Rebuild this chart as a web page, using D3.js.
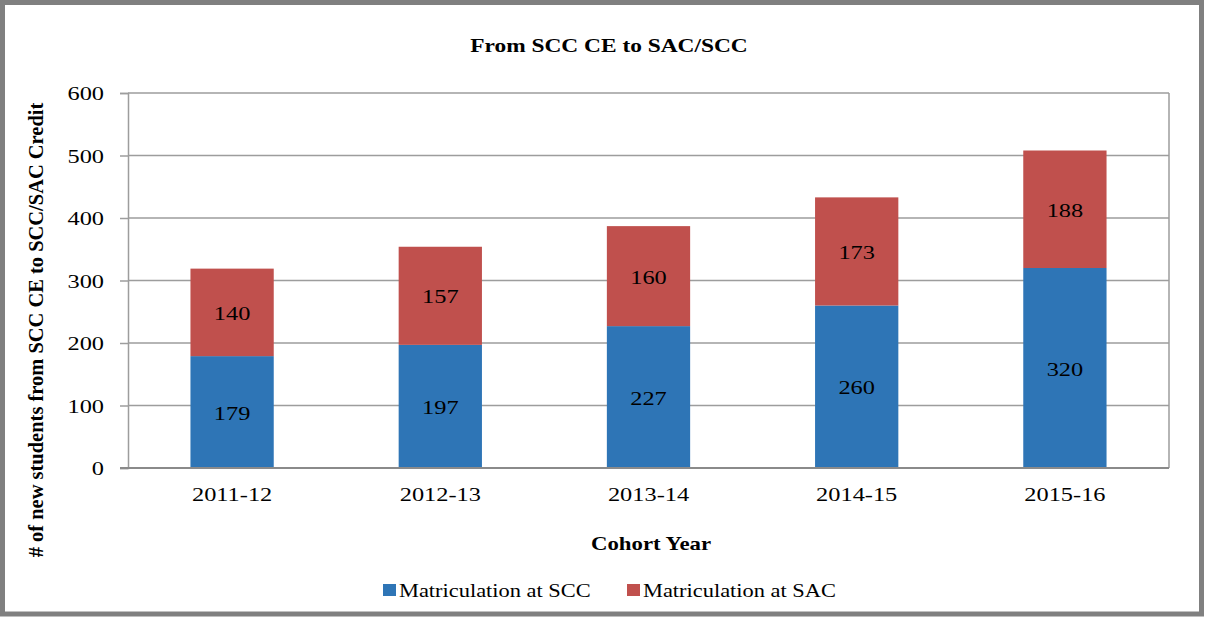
<!DOCTYPE html>
<html>
<head>
<meta charset="utf-8">
<script src="https://cdn.jsdelivr.net/npm/d3@7"></script>
<style>
  body { margin: 0; background: #fff; }
  svg { display: block; }
  text { font-family: "Liberation Serif", "Times New Roman", serif; fill: #000; }
</style>
</head>
<body>
<svg id="chart" width="1205" height="617"></svg>
<script>
const cohorts = ['2011-12', '2012-13', '2013-14', '2014-15', '2015-16'];
const sccValues = [179, 197, 227, 260, 320];
const sacValues = [140, 157, 160, 173, 188];
const yTicks = [0, 100, 200, 300, 400, 500, 600];
const seriesNames = ['Matriculation at SCC', 'Matriculation at SAC'];
const seriesColors = ['#2E75B6', '#C0504D'];

const svg = d3.select('#chart');
const fs = 19.5;
const sx = 1.25; // text in the reference is stretched wide

const margin = { left: 128, right: 1169, top: 93, bottom: 468 };

const x = d3.scaleBand()
    .domain(cohorts)
    .range([margin.left, margin.right])
    .paddingInner(0.6)
    .paddingOuter(0.3);

const y = d3.scaleLinear()
    .domain([0, 600])
    .range([margin.bottom, margin.top]);

// outer frame
svg.append('rect')
    .attr('x', 2.5).attr('y', 2.5)
    .attr('width', 1199).attr('height', 611.5)
    .attr('fill', '#fff')
    .attr('stroke', '#808080')
    .attr('stroke-width', 5);

// gridlines
svg.append('g')
    .selectAll('line')
    .data(yTicks.filter(d => d > 0))
    .enter()
    .append('line')
    .attr('x1', margin.left)
    .attr('x2', margin.right)
    .attr('y1', d => y(d))
    .attr('y2', d => y(d))
    .attr('stroke', '#9d9d9d')
    .attr('stroke-width', 1.5);

// right border of plot area
svg.append('line')
    .attr('x1', margin.right).attr('x2', margin.right)
    .attr('y1', margin.top).attr('y2', margin.bottom)
    .attr('stroke', '#9d9d9d')
    .attr('stroke-width', 1.5);

// stacked bars
const stackData = cohorts.map((c, i) => ({ cohort: c, scc: sccValues[i], sac: sacValues[i] }));
const stack = d3.stack().keys(['scc', 'sac']);
const layers = stack(stackData);

const layerGroups = svg.append('g')
    .selectAll('g')
    .data(layers)
    .enter()
    .append('g')
    .attr('fill', (d, i) => seriesColors[i]);

layerGroups.selectAll('rect')
    .data(d => d)
    .enter()
    .append('rect')
    .attr('x', d => x(d.data.cohort))
    .attr('width', x.bandwidth())
    .attr('y', d => y(d[1]))
    .attr('height', d => y(d[0]) - y(d[1]));

layerGroups.selectAll('text')
    .data(d => d)
    .enter()
    .append('text')
    .attr('text-anchor', 'middle')
    .attr('dominant-baseline', 'central')
    .attr('font-size', fs)
    .attr('transform', d => `translate(${x(d.data.cohort) + x.bandwidth() / 2},${(y(d[0]) + y(d[1])) / 2 + 1}) scale(${sx},1)`)
    .text(d => d[1] - d[0]);

// y axis
const yAxis = d3.axisLeft(y)
    .tickValues(yTicks)
    .tickSize(8)
    .tickPadding(0);

const yAxisG = svg.append('g')
    .attr('transform', `translate(${margin.left},0)`)
    .call(yAxis);

yAxisG.select('.domain').attr('stroke', '#9d9d9d').attr('stroke-width', 1.5);
yAxisG.selectAll('.tick line').attr('stroke', '#9d9d9d').attr('stroke-width', 1.5);
yAxisG.selectAll('.tick text')
    .attr('x', null)
    .attr('dy', null)
    .attr('font-size', fs)
    .attr('dominant-baseline', 'central')
    .attr('transform', `translate(-24,0) scale(${sx},1)`);
yAxisG.attr('font-family', null);

// x axis
const xAxis = d3.axisBottom(x)
    .tickSize(0)
    .tickPadding(0);

const xAxisG = svg.append('g')
    .attr('transform', `translate(0,${margin.bottom})`)
    .call(xAxis);

xAxisG.select('.domain')
    .attr('d', `M${margin.left - 8},0H${margin.right}`)
    .attr('stroke', '#8a8a8a')
    .attr('stroke-width', 2);
xAxisG.selectAll('.tick text')
    .attr('y', null)
    .attr('dy', null)
    .attr('font-size', fs)
    .attr('transform', `translate(0,33) scale(${sx},1)`);
xAxisG.attr('font-family', null);

// title
svg.append('text')
    .attr('text-anchor', 'middle')
    .attr('font-size', fs)
    .attr('font-weight', 'bold')
    .attr('transform', `translate(609,52) scale(1.2,1)`)
    .text('From SCC CE to SAC/SCC');

// x title
svg.append('text')
    .attr('text-anchor', 'middle')
    .attr('font-size', fs)
    .attr('font-weight', 'bold')
    .attr('transform', `translate(651,550) scale(1.17,1)`)
    .text('Cohort Year');

// y title
svg.append('text')
    .attr('text-anchor', 'middle')
    .attr('font-size', fs)
    .attr('font-weight', 'bold')
    .attr('transform', `translate(43,330) rotate(-90) scale(1.05,1.12)`)
    .text('# of new students from SCC CE to SCC/SAC Credit');

// legend
const legendX = [383, 627];
const legend = svg.append('g')
    .selectAll('g')
    .data(seriesNames)
    .enter()
    .append('g')
    .attr('transform', (d, i) => `translate(${legendX[i]},584)`);

legend.append('rect')
    .attr('width', 13)
    .attr('height', 12)
    .attr('fill', (d, i) => seriesColors[i]);

legend.append('text')
    .attr('font-size', fs)
    .attr('transform', `translate(16,12.5) scale(1.15,1)`)
    .text(d => d);
</script>
</body>
</html>
